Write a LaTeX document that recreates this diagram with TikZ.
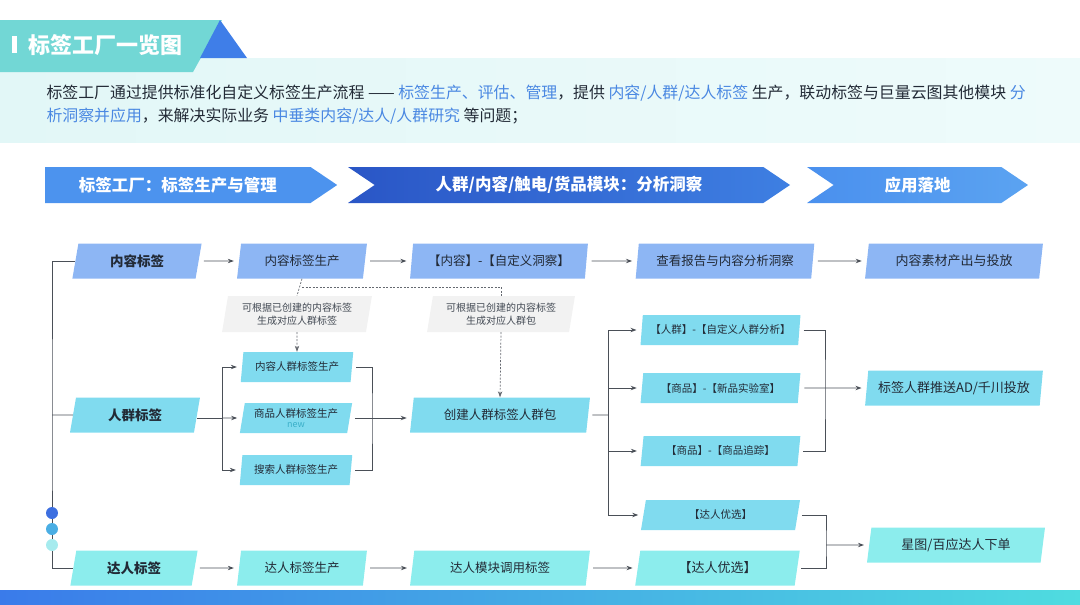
\documentclass[tikz,border=0pt]{standalone}
\usepackage{fontspec}
\setmainfont{Noto Sans CJK SC}
\usetikzlibrary{arrows.meta,positioning,calc,shapes.geometric,shapes.symbols}
\definecolor{ink}{HTML}{222A36}
\definecolor{wire}{HTML}{4A4F57}
\definecolor{hilite}{HTML}{4A88E2}
\definecolor{panelL}{HTML}{E2F7F7}
\definecolor{panelR}{HTML}{EEFBFB}
\definecolor{titleteal}{HTML}{72D7D5}
\definecolor{titleblue}{HTML}{3F7EE8}
\definecolor{stageA}{HTML}{4C93EE}
\definecolor{stageB}{HTML}{2A56C6}
\definecolor{stageBr}{HTML}{3E7FE2}
\definecolor{stageC}{HTML}{4A90EE}
\definecolor{stageCr}{HTML}{5BA3F1}
\definecolor{contentfill}{HTML}{8DB6F4}
\definecolor{crowdfill}{HTML}{80DBEF}
\definecolor{talentfill}{HTML}{8CEDED}
\definecolor{notefill}{HTML}{F2F2F2}
\definecolor{newteal}{HTML}{3AAFC8}
\definecolor{dotA}{HTML}{3D6FE0}
\definecolor{dotB}{HTML}{4AAEE4}
\definecolor{dotC}{HTML}{A6EBEE}
\definecolor{barL}{HTML}{3A7BEA}
\definecolor{barR}{HTML}{4FDCE0}
\tikzset{
  >={Stealth[length=6pt,width=4.4pt]},
  wireline/.style={draw=wire, line width=0.9pt},
  flow/.style={wireline, ->, shorten <=5pt, shorten >=5pt},
  branch/.style={wireline, ->, shorten >=5pt},
  merge/.style={wireline, shorten <=4pt, shorten >=4pt},
  stub/.style={wireline, shorten <=4pt},
  dotwire/.style={draw=wire!85, line width=0.7pt, dash pattern=on 2pt off 1.5pt},
  dotflow/.style={dotwire, ->},
  tagbox/.style={trapezium, trapezium left angle=78, trapezium right angle=102,
    trapezium stretches=true, inner sep=0pt, text=ink, align=center},
  contentbox/.style={tagbox, fill=contentfill, minimum height=35pt},
  crowdbox/.style={tagbox, fill=crowdfill, minimum height=35pt},
  talentbox/.style={tagbox, fill=talentfill, minimum height=35pt},
  subbox/.style={tagbox, fill=crowdfill, minimum height=30pt, minimum width=113pt,
    font=\fontsize{10.5}{12}\selectfont},
  sidebox/.style={tagbox, fill=crowdfill, minimum height=30pt, minimum width=160pt,
    font=\fontsize{10.5}{12}\selectfont},
  notebox/.style={tagbox, fill=notefill, minimum height=36pt, text=ink!85,
    font=\fontsize{10}{13}\selectfont},
  rowlabel/.style={font=\bfseries\fontsize{13.5}{15}\selectfont},
  boxtext/.style={font=\fontsize{12.5}{14}\selectfont},
  stage/.style={signal, signal to=east, signal from=west, signal pointer angle=68,
    minimum height=36pt, inner sep=0pt, text=white, font=\bfseries\fontsize{16.5}{18}\selectfont},
  intro/.style={font=\fontsize{15.9}{18}\selectfont, text=ink},
}
\begin{document}
\begin{tikzpicture}[x=1pt, y=-1pt]
\useasboundingbox (0,0) rectangle (1080,605);

% -----------------------------------------------------------------------------
% title banner and intro text
% -----------------------------------------------------------------------------
\shade[left color=panelL, right color=panelR] (0,58) rectangle (1080,142);
\fill[titleteal] (0,20) -- (222,20) -- (193,72) -- (0,72) -- cycle;
\fill[titleblue] (220,20) -- (247,58) -- (200,58) -- cycle;
\fill[white] (12,36) rectangle (17,53);
\node[anchor=west, text=white, font=\bfseries\fontsize{22}{24}\selectfont] (title) at (25,45) {标签工厂一览图};

\node[intro, anchor=west] (introa) at (43,93)
  {标签工厂通过提供标准化自定义标签生产流程 —— \textcolor{hilite}{标签生产、评估、管理}，提供 \textcolor{hilite}{内容/人群/达人标签} 生产，联动标签与巨量云图其他模块 \textcolor{hilite}{分}};
\node[intro, anchor=west] (introb) at (43,116)
  {\textcolor{hilite}{析洞察并应用}，来解决实际业务 \textcolor{hilite}{中垂类内容/达人/人群研究} 等问题；};

% -----------------------------------------------------------------------------
% stage arrows
% -----------------------------------------------------------------------------
\node[stage, signal from=nowhere, fill=stageA, minimum width=292pt, anchor=west] (stageone) at (45,185) {标签工厂：标签生产与管理};
\node[stage, left color=stageB, right color=stageBr, minimum width=442pt] (stagetwo) at (569,185) {人群/内容/触电/货品模块：分析洞察};
\node[stage, left color=stageC, right color=stageCr, minimum width=221pt] (stagethree) at (917.5,185) {应用落地};

% -----------------------------------------------------------------------------
% content row
% -----------------------------------------------------------------------------
\node[contentbox, rowlabel, minimum width=130pt] (ctag) at (137,261) {内容标签};
\node[contentbox, boxtext, minimum width=130pt] (cprod) at (302,261) {内容标签生产};
\node[contentbox, boxtext, minimum width=178pt] (cinsight) at (499,261) {【内容】-【自定义洞察】};
\node[contentbox, boxtext, minimum width=179pt] (creport) at (725,261) {查看报告与内容分析洞察};
\node[contentbox, boxtext, font=\fontsize{13}{14}\selectfont, minimum width=178pt] (cout) at (954,261) {内容素材产出与投放};
\draw[flow] (ctag) -- (cprod);
\draw[flow] (cprod) -- (cinsight);
\draw[flow] (cinsight) -- (creport);
\draw[flow] (creport) -- (cout);

% notes on reuse of content tags
\node[notebox, minimum width=150pt] (noteone) at (297,314) {可根据已创建的内容标签\\生成对应人群标签};
\node[notebox, minimum width=148pt] (notetwo) at (501,314) {可根据已创建的内容标签\\生成对应人群包};
\coordinate (split) at (302,287);

% -----------------------------------------------------------------------------
% crowd row
% -----------------------------------------------------------------------------
\node[crowdbox, rowlabel, minimum width=130pt] (crowd) at (135,415) {人群标签};
\node[subbox] (subcontent) at (297,367) {内容人群标签生产};
\node[subbox] (subgoods) at (296,418) {商品人群标签生产\\[-2pt]{\color{newteal}\fontsize{9}{9}\selectfont new}};
\node[subbox] (subsearch) at (296,470) {搜索人群标签生产};
\node[crowdbox, boxtext, minimum width=180pt] (pack) at (500,415) {创建人群标签人群包};

\coordinate (forkone) at (222,418);
\coordinate (joinone) at (372,418);
\draw[wireline] (crowd.east |- forkone) -- (forkone);
\draw[branch] (forkone) -- (subgoods.west);
\draw[branch] (forkone) |- (subcontent.west);
\draw[branch] (forkone) |- (subsearch.west);
\draw[merge] (subcontent.east) -| (joinone) |- (subsearch.east);
\draw[flow] (subgoods.east) -- (pack.west |- subgoods.east);

\draw[dotwire] (cprod.south) -- (noteone.north);
\draw[dotflow] (noteone.south) -- (subcontent.north);
\draw[dotwire] (split) -| (notetwo.north);
\draw[dotflow] (notetwo.south) -- (pack.north);

% insight modules and delivery
\node[sidebox] (insightcrowd) at (720.5,330) {【人群】-【自定义人群分析】};
\node[sidebox] (insightnew) at (720.5,388) {【商品】-【新品实验室】};
\node[sidebox] (insighttrack) at (720.5,451) {【商品】-【商品追踪】};
\node[sidebox] (insighttalent) at (720.5,515) {【达人优选】};
\node[crowdbox, font=\fontsize{13}{14}\selectfont, minimum width=178pt] (push) at (954,388) {标签人群推送AD/千川投放};

\coordinate (forktwo) at (608,415);
\coordinate (jointwo) at (825,388);
\draw[stub] (pack.east) -- (forktwo);
\draw[branch] (forktwo) |- (insightcrowd.west);
\draw[branch] (forktwo) |- (insightnew.west);
\draw[branch] (forktwo) |- (insighttrack.west);
\draw[branch] (forktwo) |- (insighttalent.west);
\draw[merge] (insightcrowd.east) -| (jointwo) |- (insighttrack.east);
\draw[flow] (insightnew.east) -- (push.west);

% -----------------------------------------------------------------------------
% talent row
% -----------------------------------------------------------------------------
\node[talentbox, rowlabel, minimum width=128pt] (talent) at (134,568) {达人标签};
\node[talentbox, boxtext, minimum width=130pt] (tprod) at (302,568) {达人标签生产};
\node[talentbox, boxtext, minimum width=180pt] (tmodule) at (500,568) {达人模块调用标签};
\node[talentbox, font=\fontsize{13}{14}\selectfont, minimum width=165pt] (tselect) at (717.5,568) {【达人优选】};
\node[talentbox, font=\fontsize{13}{14}\selectfont, minimum width=178pt] (star) at (956,545) {星图/百应达人下单};
\draw[flow] (talent) -- (tprod);
\draw[flow] (tprod) -- (tmodule);
\draw[flow] (tmodule) -- (tselect);

\coordinate (jointhree) at (826,545);
\draw[merge] (insighttalent.east) -| (jointhree) |- (tselect.east);
\draw[branch] (jointhree) -- (star.west);

% left bracket over the three tag rows
\coordinate (rail) at (52,415);
\draw[wireline] (ctag.west) -| (rail) |- (talent.west);
\draw[wireline] (rail) -- (crowd.west);
\fill[dotA] (52,513) circle (6pt);
\fill[dotB] (52,529) circle (6pt);
\fill[dotC] (52,545) circle (6pt);

% bottom bar
\shade[left color=barL, right color=barR] (0,590) rectangle (1080,605);

\end{tikzpicture}
\end{document}
